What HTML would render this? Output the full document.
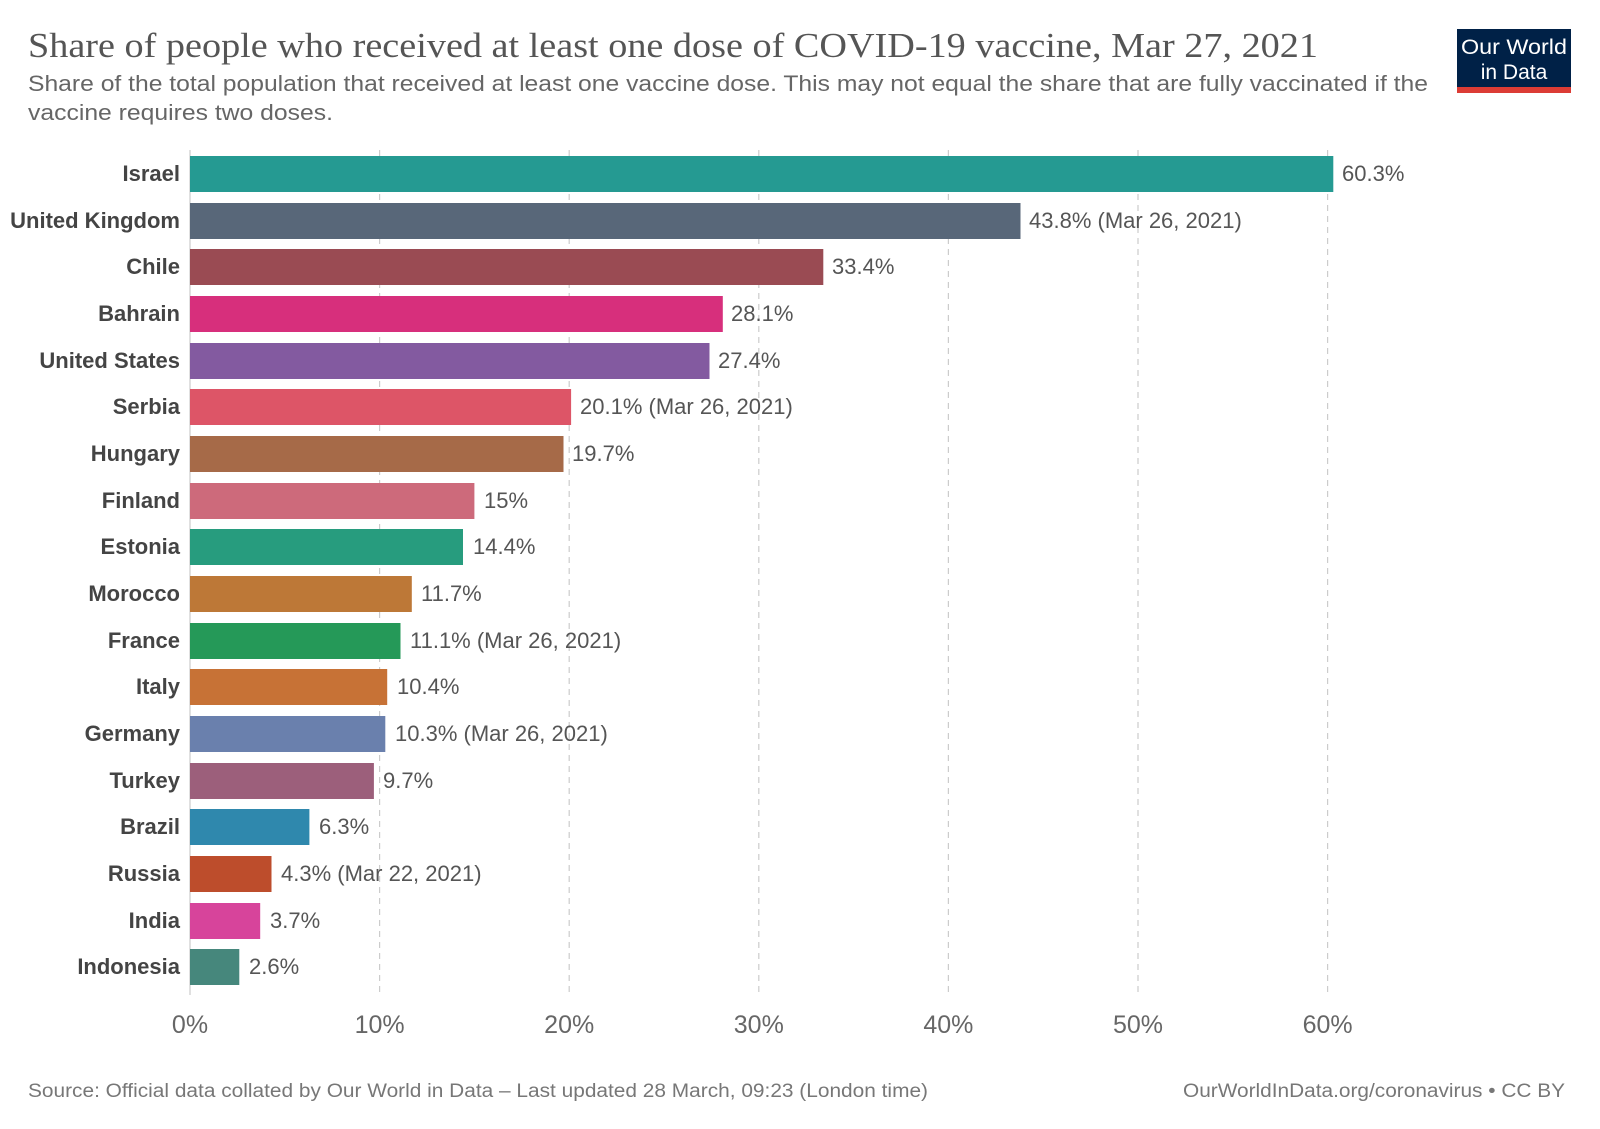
<!DOCTYPE html>
<html><head><meta charset="utf-8"><style>
html,body{margin:0;padding:0;background:#fff;}
svg{display:block;}
</style></head><body>
<svg width="1600" height="1129" viewBox="0 0 1600 1129" xmlns="http://www.w3.org/2000/svg" font-family="Liberation Sans, sans-serif">
<text x="28" y="57" font-family="Liberation Serif, serif" font-size="35" fill="#555" textLength="1290" lengthAdjust="spacingAndGlyphs">Share of people who received at least one dose of COVID-19 vaccine, Mar 27, 2021</text>
<text x="28" y="91" font-size="22" fill="#666" textLength="1400" lengthAdjust="spacingAndGlyphs">Share of the total population that received at least one vaccine dose. This may not equal the share that are fully vaccinated if the</text>
<text x="28" y="120" font-size="22" fill="#666" textLength="305" lengthAdjust="spacingAndGlyphs">vaccine requires two doses.</text>
<rect x="1457" y="29" width="114" height="64" fill="#002147"/>
<rect x="1457" y="87" width="114" height="6" fill="#dc3c35"/>
<text x="1514" y="54" font-size="21" fill="#fff" text-anchor="middle" textLength="106" lengthAdjust="spacingAndGlyphs">Our World</text>
<text x="1514" y="79" font-size="21" fill="#fff" text-anchor="middle">in Data</text>
<g stroke="#ccc" stroke-width="1.2" stroke-dasharray="6,5">
<line x1="379.6" y1="150" x2="379.6" y2="995"/>
<line x1="569.2" y1="150" x2="569.2" y2="995"/>
<line x1="758.8" y1="150" x2="758.8" y2="995"/>
<line x1="948.4" y1="150" x2="948.4" y2="995"/>
<line x1="1138" y1="150" x2="1138" y2="995"/>
<line x1="1327.6" y1="150" x2="1327.6" y2="995"/>
</g>
<line x1="190" y1="150" x2="190" y2="995" stroke="#ccc" stroke-width="1.2"/>
<g font-size="25" fill="#666" text-anchor="middle">
<text x="190" y="1033">0%</text><text x="379.6" y="1033">10%</text><text x="569.2" y="1033">20%</text><text x="758.8" y="1033">30%</text><text x="948.4" y="1033">40%</text><text x="1138" y="1033">50%</text><text x="1327.6" y="1033">60%</text>
</g>
<text x="28" y="1097" font-size="19" fill="#777" textLength="900" lengthAdjust="spacingAndGlyphs">Source: Official data collated by Our World in Data – Last updated 28 March, 09:23 (London time)</text>
<text x="1565" y="1097" font-size="19" fill="#777" text-anchor="end" textLength="382" lengthAdjust="spacingAndGlyphs">OurWorldInData.org/coronavirus • CC BY</text>
<g font-size="22">
<rect x="190" y="156" width="1143.3" height="36" fill="#259a92"/><text x="180" y="181" text-anchor="end" font-weight="bold" fill="#444">Israel</text><text x="1342" y="181" fill="#555">60.3%</text>
<rect x="190" y="203" width="830.5" height="36" fill="#586779"/><text x="180" y="228" text-anchor="end" font-weight="bold" fill="#444">United Kingdom</text><text x="1029" y="228" fill="#555">43.8% (Mar 26, 2021)</text>
<rect x="190" y="249" width="633.3" height="36" fill="#9a4b53"/><text x="180" y="274" text-anchor="end" font-weight="bold" fill="#444">Chile</text><text x="832" y="274" fill="#555">33.4%</text>
<rect x="190" y="296" width="532.8" height="36" fill="#d72f7c"/><text x="180" y="321" text-anchor="end" font-weight="bold" fill="#444">Bahrain</text><text x="731" y="321" fill="#555">28.1%</text>
<rect x="190" y="343" width="519.5" height="36" fill="#835aa0"/><text x="180" y="368" text-anchor="end" font-weight="bold" fill="#444">United States</text><text x="718" y="368" fill="#555">27.4%</text>
<rect x="190" y="389" width="381.1" height="36" fill="#dd5567"/><text x="180" y="414" text-anchor="end" font-weight="bold" fill="#444">Serbia</text><text x="580" y="414" fill="#555">20.1% (Mar 26, 2021)</text>
<rect x="190" y="436" width="373.5" height="36" fill="#a66a48"/><text x="180" y="461" text-anchor="end" font-weight="bold" fill="#444">Hungary</text><text x="572" y="461" fill="#555">19.7%</text>
<rect x="190" y="483" width="284.4" height="36" fill="#cd6a7b"/><text x="180" y="508" text-anchor="end" font-weight="bold" fill="#444">Finland</text><text x="484" y="508" fill="#555">15%</text>
<rect x="190" y="529" width="273" height="36" fill="#279c7e"/><text x="180" y="554" text-anchor="end" font-weight="bold" fill="#444">Estonia</text><text x="473" y="554" fill="#555">14.4%</text>
<rect x="190" y="576" width="221.8" height="36" fill="#bd7837"/><text x="180" y="601" text-anchor="end" font-weight="bold" fill="#444">Morocco</text><text x="421" y="601" fill="#555">11.7%</text>
<rect x="190" y="623" width="210.5" height="36" fill="#259958"/><text x="180" y="648" text-anchor="end" font-weight="bold" fill="#444">France</text><text x="410" y="648" fill="#555">11.1% (Mar 26, 2021)</text>
<rect x="190" y="669" width="197.2" height="36" fill="#c77236"/><text x="180" y="694" text-anchor="end" font-weight="bold" fill="#444">Italy</text><text x="397" y="694" fill="#555">10.4%</text>
<rect x="190" y="716" width="195.3" height="36" fill="#6a80ad"/><text x="180" y="741" text-anchor="end" font-weight="bold" fill="#444">Germany</text><text x="395" y="741" fill="#555">10.3% (Mar 26, 2021)</text>
<rect x="190" y="763" width="183.9" height="36" fill="#9c5f7b"/><text x="180" y="788" text-anchor="end" font-weight="bold" fill="#444">Turkey</text><text x="383" y="788" fill="#555">9.7%</text>
<rect x="190" y="809" width="119.4" height="36" fill="#2f88ad"/><text x="180" y="834" text-anchor="end" font-weight="bold" fill="#444">Brazil</text><text x="319" y="834" fill="#555">6.3%</text>
<rect x="190" y="856" width="81.5" height="36" fill="#bd4d2c"/><text x="180" y="881" text-anchor="end" font-weight="bold" fill="#444">Russia</text><text x="281" y="881" fill="#555">4.3% (Mar 22, 2021)</text>
<rect x="190" y="903" width="70.2" height="36" fill="#d7449b"/><text x="180" y="928" text-anchor="end" font-weight="bold" fill="#444">India</text><text x="270" y="928" fill="#555">3.7%</text>
<rect x="190" y="949" width="49.3" height="36" fill="#46877c"/><text x="180" y="974" text-anchor="end" font-weight="bold" fill="#444">Indonesia</text><text x="249" y="974" fill="#555">2.6%</text>
</g>
</svg>
</body></html>
